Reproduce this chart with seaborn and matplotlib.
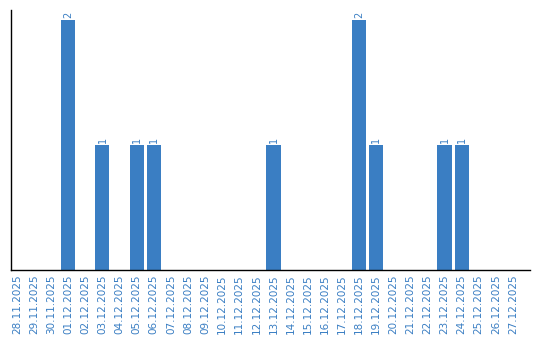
import matplotlib
matplotlib.use("Agg")
import matplotlib.pyplot as plt
import seaborn as sns
import pandas as pd

dates = ["28.11.2025", "29.11.2025", "30.11.2025", "01.12.2025", "02.12.2025",
         "03.12.2025", "04.12.2025", "05.12.2025", "06.12.2025", "07.12.2025",
         "08.12.2025", "09.12.2025", "10.12.2025", "11.12.2025", "12.12.2025",
         "13.12.2025", "14.12.2025", "15.12.2025", "16.12.2025", "17.12.2025",
         "18.12.2025", "19.12.2025", "20.12.2025", "21.12.2025", "22.12.2025",
         "23.12.2025", "24.12.2025", "25.12.2025", "26.12.2025", "27.12.2025"]
counts = [0, 0, 0, 2, 0, 1, 0, 1, 1, 0, 0, 0, 0, 0, 0,
          1, 0, 0, 0, 0, 2, 1, 0, 0, 0, 1, 1, 0, 0, 0]

color = "#3a7ec3"
df = pd.DataFrame({"date": dates, "count": counts})

sns.set_style("white")
fig = plt.figure(figsize=(5.4, 3.4), dpi=100)
ax = fig.add_axes([11/540, 70/340, 519/540, 260/340])
sns.barplot(data=df, x="date", y="count", color=color, width=0.82,
            saturation=1, linewidth=0, edgecolor="none", ax=ax)

for i, v in enumerate(counts):
    if v > 0:
        ax.text(i, v + 0.015, str(v), rotation=90, ha="center", va="bottom",
                fontsize=7, color=color)

ax.set_xlim(-0.35, 30.0)
ax.set_ylim(0, 2.08)
ax.set_xlabel("")
ax.set_ylabel("")
ax.set_yticks([])
ax.tick_params(axis="x", labelrotation=90, labelsize=7.5, colors=color,
               length=0, pad=3.5)
for s in ["top", "right"]:
    ax.spines[s].set_visible(False)
for s in ["left", "bottom"]:
    ax.spines[s].set_color("black")
    ax.spines[s].set_linewidth(1)

fig.savefig("out.png", dpi=100)
